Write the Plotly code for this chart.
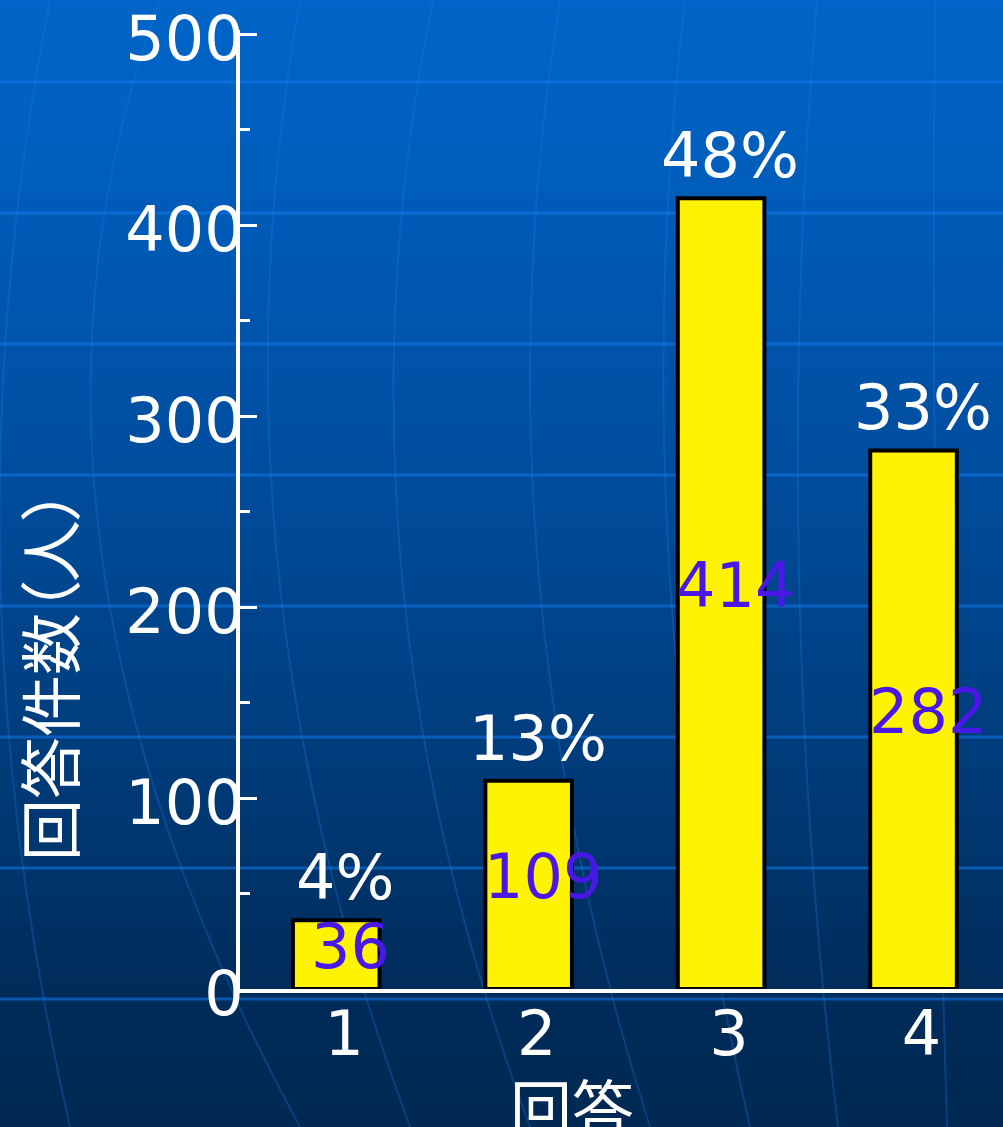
import plotly.graph_objects as go

# Survey answers and head counts
categories = ["1", "2", "3", "4"]
counts = [36, 109, 414, 282]
percent_labels = ["4%", "13%", "48%", "33%"]
y_ticks = [0, 100, 200, 300, 400, 500]

x_title = "回答"
y_title = "回答件数<span style=\"font-feature-settings:'palt'\">（</span>人<span style=\"font-feature-settings:'palt'\">）</span>"

# Figure geometry (pixels)
FIG_W, FIG_H = 1003, 1127
M_L, M_R, M_T, M_B = 240, 0, 30, 138
PLOT_W = FIG_W - M_L - M_R
PLOT_H = FIG_H - M_T - M_B
PX_PER_UNIT = 1.91
Y_MAX = PLOT_H / PX_PER_UNIT


def px_x(px):
    return (px - M_L) / PLOT_W


def px_y(py):
    return (FIG_H - M_B - py) / PLOT_H


NUM_FONT = "DejaVu Sans"
CJK_FONT = "Noto Sans CJK JP"

shapes = []

# Vertical blue gradient background built from thin bands
stops = [(0, (0, 101, 200)), (120, (0, 96, 192)), (450, (0, 78, 160)),
         (760, (0, 60, 122)), (990, (0, 44, 90)), (1127, (0, 40, 82))]


def grad(py):
    for (y0, c0), (y1, c1) in zip(stops[:-1], stops[1:]):
        if y0 <= py <= y1:
            t = (py - y0) / (y1 - y0)
            return tuple(round(a + (b - a) * t) for a, b in zip(c0, c1))
    return stops[-1][1]


band = 6
for top in range(0, FIG_H, band):
    r, g, b = grad(top + band / 2)
    shapes.append(dict(type="rect", xref="paper", yref="paper", layer="below",
                       x0=px_x(0), x1=px_x(FIG_W), y0=px_y(top + band + 1), y1=px_y(top),
                       fillcolor=f"rgb({r},{g},{b})", line=dict(width=0)))

# Decorative horizontal guide lines
for py in [82, 213, 344, 475, 606, 737, 868, 999]:
    shapes.append(dict(type="line", xref="paper", yref="paper", layer="below",
                       x0=px_x(0), x1=px_x(FIG_W), y0=px_y(py), y1=px_y(py),
                       line=dict(color="rgba(20,120,235,0.55)", width=3)))

# Decorative globe-like meridian curves
meridians = [
    (50, -60, 560, 70),
    (160, -30, 520, 300),
    (300, 200, 560, 410),
    (433, 320, 560, 530),
    (560, 470, 560, 650),
    (685, 620, 560, 750),
    (817, 770, 560, 838),
    (935, 930, 560, 947),
]
for x_top, cx, cy, x_bot in meridians:
    path = (f"M {px_x(x_top)} {px_y(0)} Q {px_x(cx)} {px_y(cy)} "
            f"{px_x(x_bot)} {px_y(FIG_H)}")
    shapes.append(dict(type="path", xref="paper", yref="paper", layer="below",
                       path=path, line=dict(color="rgba(30,125,235,0.28)", width=2)))

fig = go.Figure()
fig.add_trace(go.Bar(
    x=categories, y=counts, width=0.45,
    marker=dict(color="#FFF304", line=dict(color="black", width=4)),
    hoverinfo="skip",
))

annotations = []
for i, (val, pct) in enumerate(zip(counts, percent_labels)):
    annotations.append(dict(x=i, y=val, text=pct, showarrow=False,
                            xanchor="center", yanchor="bottom", xshift=9, yshift=4,
                            font=dict(family=NUM_FONT, size=62, color="white")))
    annotations.append(dict(x=i, y=val / 2, text=str(val), showarrow=False,
                            xanchor="center", yanchor="middle", xshift=14, yshift=8,
                            font=dict(family=NUM_FONT, size=62, color="#4A18E6")))

annotations.append(dict(xref="paper", yref="paper", x=px_x(572), y=px_y(1106),
                        text=x_title, showarrow=False, xanchor="center", yanchor="middle",
                        font=dict(family=CJK_FONT, size=62, color="white")))
annotations.append(dict(xref="paper", yref="paper", x=px_x(48), y=px_y(675),
                        text=y_title, showarrow=False, textangle=-90,
                        xanchor="center", yanchor="middle",
                        font=dict(family=CJK_FONT, size=62, color="white")))

fig.update_layout(
    width=FIG_W, height=FIG_H,
    margin=dict(l=M_L, r=M_R, t=M_T, b=M_B, pad=0),
    paper_bgcolor="rgb(0,60,122)",
    plot_bgcolor="rgba(0,0,0,0)",
    showlegend=False,
    shapes=shapes,
    annotations=annotations,
)
fig.update_xaxes(
    type="category", range=[-0.5, 3.465],
    showline=True, linecolor="white", linewidth=4,
    showgrid=False, zeroline=False, ticks="",
    tickfont=dict(family=NUM_FONT, size=62, color="white"),
    ticklabelshift=8, ticklabelstandoff=-12,
)
fig.update_yaxes(
    range=[0, Y_MAX], tickvals=y_ticks,
    showline=True, linecolor="white", linewidth=4,
    showgrid=False, zeroline=False,
    ticks="inside", ticklen=17, tickwidth=3, tickcolor="white",
    minor=dict(ticks="inside", ticklen=10, tickwidth=3, tickcolor="white",
               tickvals=[50, 150, 250, 350, 450], showgrid=False),
    tickfont=dict(family=NUM_FONT, size=62, color="white"),
    ticklabelstandoff=-20, ticklabelshift=4, ticklabeloverflow="allow",
)

fig.write_html("out.html")
